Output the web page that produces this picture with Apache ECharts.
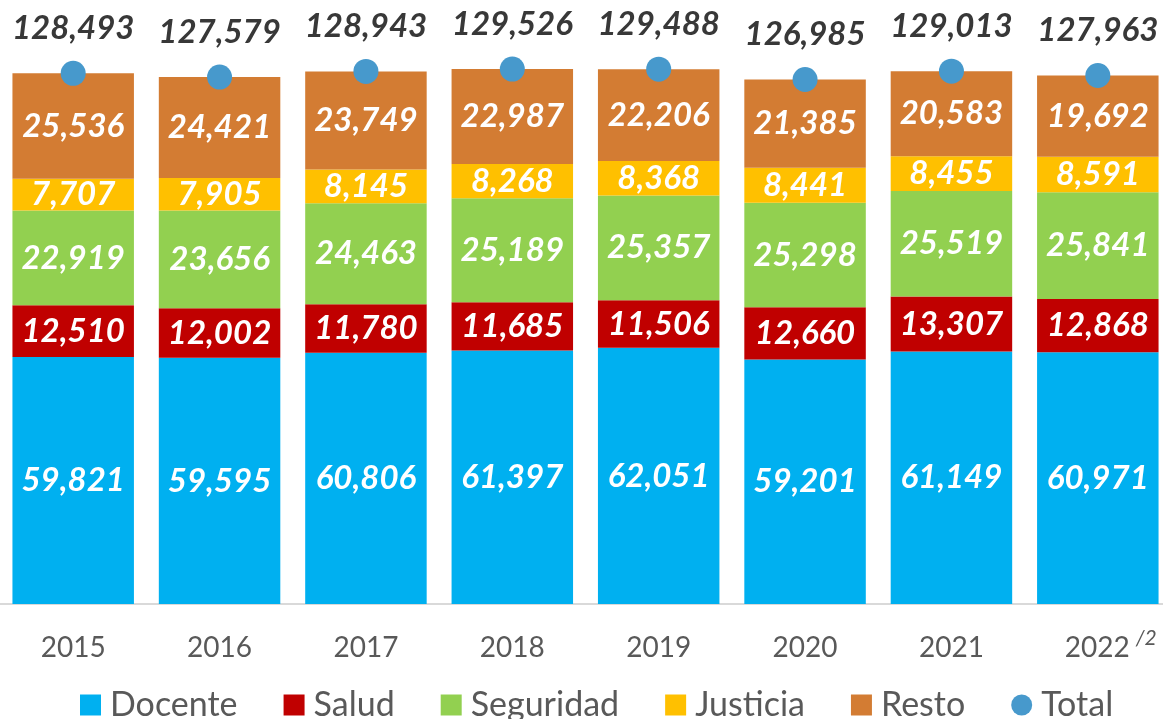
<!DOCTYPE html>
<html>
<head>
<meta charset="utf-8">
<script src="https://cdn.jsdelivr.net/npm/echarts@6/dist/echarts.min.js"></script>
<style>
  html, body { margin: 0; padding: 0; background: #fff; }
  #chart { width: 1163px; height: 719px; }
</style>
</head>
<body>
<div id="chart"></div>
<script>
const years = ['2015', '2016', '2017', '2018', '2019', '2020', '2021', '2022']
const docente = [59821, 59595, 60806, 61397, 62051, 59201, 61149, 60971]
const salud = [12510, 12002, 11780, 11685, 11506, 12660, 13307, 12868]
const seguridad = [22919, 23656, 24463, 25189, 25357, 25298, 25519, 25841]
const justicia = [7707, 7905, 8145, 8268, 8368, 8441, 8455, 8591]
const resto = [25536, 24421, 23749, 22987, 22206, 21385, 20583, 19692]
const total = [128493, 127579, 128943, 129526, 129488, 126985, 129013, 127963]

const font = 'Lato, "Open Sans", sans-serif'
const fmt = v => v.toLocaleString('en-US')

const inBar = {
    show: true,
    position: 'inside',
    color: '#fff',
    fontFamily: font,
    fontSize: 33,
    fontWeight: 'bold',
    fontStyle: 'italic',
    formatter: p => fmt(p.value)
}

function barSeries (name, data, color) {
    return {
        name, type: 'bar', stack: 'all', data,
        barCategoryGap: '17%',
        itemStyle: { color },
        label: inBar,
        emphasis: { disabled: true }
    }
}

const chart = echarts.init(document.getElementById('chart'))

chart.setOption({
    animation: false,
    grid: { left: 0, width: 1171, top: 1, bottom: 115, containLabel: false, outerBoundsMode: 'none' },
    legend: {
        left: 80,
        top: 687,
        padding: 0,
        itemWidth: 21,
        itemHeight: 21,
        itemGap: 46,
        textStyle: { fontFamily: font, fontSize: 34, lineHeight: 36, color: '#595959', padding: [0, 0, 0, 4] },
        data: [
            { name: 'Docente', icon: 'rect' },
            { name: 'Salud', icon: 'rect' },
            { name: 'Seguridad', icon: 'rect' },
            { name: 'Justicia', icon: 'rect' },
            { name: 'Resto', icon: 'rect' },
            { name: 'Total', icon: 'circle' }
        ]
    },
    xAxis: {
        type: 'category',
        data: years,
        axisLine: { lineStyle: { color: '#d9d9d9', width: 2 } },
        axisTick: { show: false },
        axisLabel: {
            interval: 0,
            margin: 24,
            fontFamily: font,
            fontSize: 28,
            lineHeight: 40,
            color: '#595959',
            formatter: v => v === '2022' ? '{pad|}{y|' + v + '}{sup|/2}' : v,
            rich: {
                pad: { width: 26 },
                y: { fontFamily: font, fontSize: 28, lineHeight: 40, color: '#595959' },
                sup: { fontFamily: font, fontSize: 21, fontStyle: 'italic', color: '#595959', verticalAlign: 'top', padding: [0, 0, 0, 6] }
            }
        }
    },
    yAxis: {
        type: 'value', min: 0, max: 146000,
        show: false,
        splitLine: { show: false }
    },
    series: [
        barSeries('Docente', docente, '#00B0F0'),
        barSeries('Salud', salud, '#C00000'),
        barSeries('Seguridad', seguridad, '#92D050'),
        barSeries('Justicia', justicia, '#FFC000'),
        barSeries('Resto', resto, '#D37C33'),
        {
            name: 'Total', type: 'scatter', data: total,
            symbolSize: 25,
            z: 5,
            itemStyle: { color: '#4799CC', opacity: 1 },
            label: {
                show: true,
                position: 'top',
                distance: 16,
                color: '#383838',
                fontFamily: font,
                fontSize: 33,
                fontWeight: 'bold',
                fontStyle: 'italic',
                formatter: p => fmt(p.value)
            },
            emphasis: { disabled: true }
        }
    ]
})
</script>
</body>
</html>
